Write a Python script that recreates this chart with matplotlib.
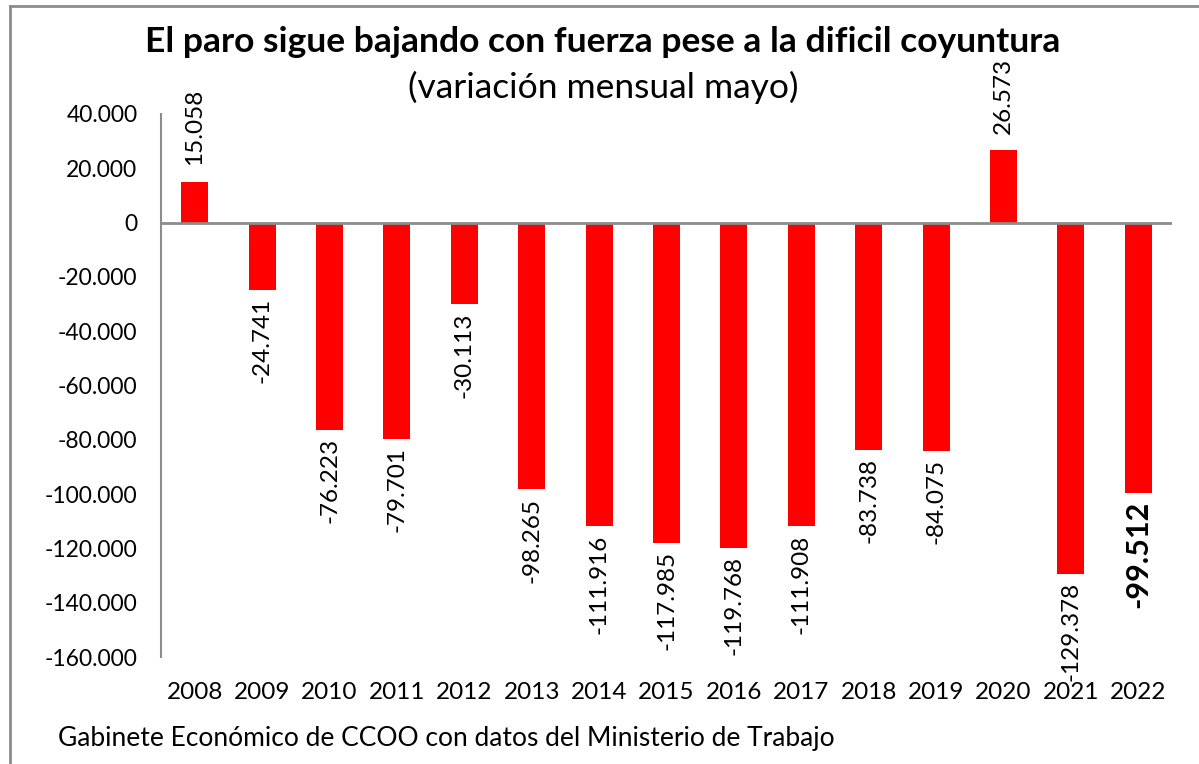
import matplotlib.pyplot as plt
from matplotlib.lines import Line2D

years = ["2008", "2009", "2010", "2011", "2012", "2013", "2014", "2015",
         "2016", "2017", "2018", "2019", "2020", "2021", "2022"]
values = [15058, -24741, -76223, -79701, -30113, -98265, -111916, -117985,
          -119768, -111908, -83738, -84075, 26573, -129378, -99512]
yticks = [40000, 20000, 0, -20000, -40000, -60000, -80000, -100000,
          -120000, -140000, -160000]

TITLE = "El paro sigue bajando con fuerza pese a la dificil coyuntura"
SUBTITLE = "(variación mensual mayo)"
SOURCE = "Gabinete Económico de CCOO con datos del Ministerio de Trabajo"

plt.rcParams['font.family'] = ['Lato', 'DejaVu Sans']

def fmt(v):
    return f"{v:,.0f}".replace(",", ".")

fig = plt.figure(figsize=(11.99, 7.64), dpi=100)
ax = fig.add_axes([0.1343, 0.140, 0.8432, 0.7108])

x = list(range(len(years)))
ax.bar(x, values, width=0.4, color="#FF0000", zorder=2)

ax.set_xlim(-0.5, len(years) - 0.5)
ax.set_ylim(-160000, 40000)
ax.set_yticks(yticks)
ax.set_yticklabels([fmt(v) for v in yticks])
ax.set_xticks(x)
ax.set_xticklabels(years)
ax.tick_params(axis="y", length=0, pad=17, labelsize=16.5)
ax.tick_params(axis="x", length=0, pad=18, labelsize=17.5)

for s in ["top", "right", "bottom"]:
    ax.spines[s].set_visible(False)
ax.spines["left"].set_color("#8c8c8c")
ax.spines["left"].set_linewidth(1.5)
ax.axhline(0, color="#8c8c8c", lw=2, zorder=3)

for i, v in enumerate(values):
    last = i == len(values) - 1
    if v >= 0:
        ax.annotate(fmt(v), (i, v), xytext=(0, 12), textcoords="offset points",
                    rotation=90, ha="center", va="bottom", fontsize=17.5)
    else:
        ax.annotate(fmt(v), (i, v), xytext=(0, -6), textcoords="offset points",
                    rotation=90, ha="center", va="top",
                    fontsize=22 if last else 17.5,
                    fontweight="bold" if last else "normal")

fig.text(0.503, 0.945, TITLE, ha="center", va="center", fontsize=25.5, fontweight="bold")
fig.text(0.503, 0.885, SUBTITLE, ha="center", va="center", fontsize=25.5)
fig.text(0.048, 0.034, SOURCE, ha="left", va="center", fontsize=19)

# chart frame
fig.add_artist(Line2D([0.0083, 0.0083], [0, 0.992], color="#8c8c8c", lw=2,
                      transform=fig.transFigure))
fig.add_artist(Line2D([0.0083, 1], [0.992, 0.992], color="#8c8c8c", lw=2,
                      transform=fig.transFigure))

fig.savefig("out.png", dpi=100)
